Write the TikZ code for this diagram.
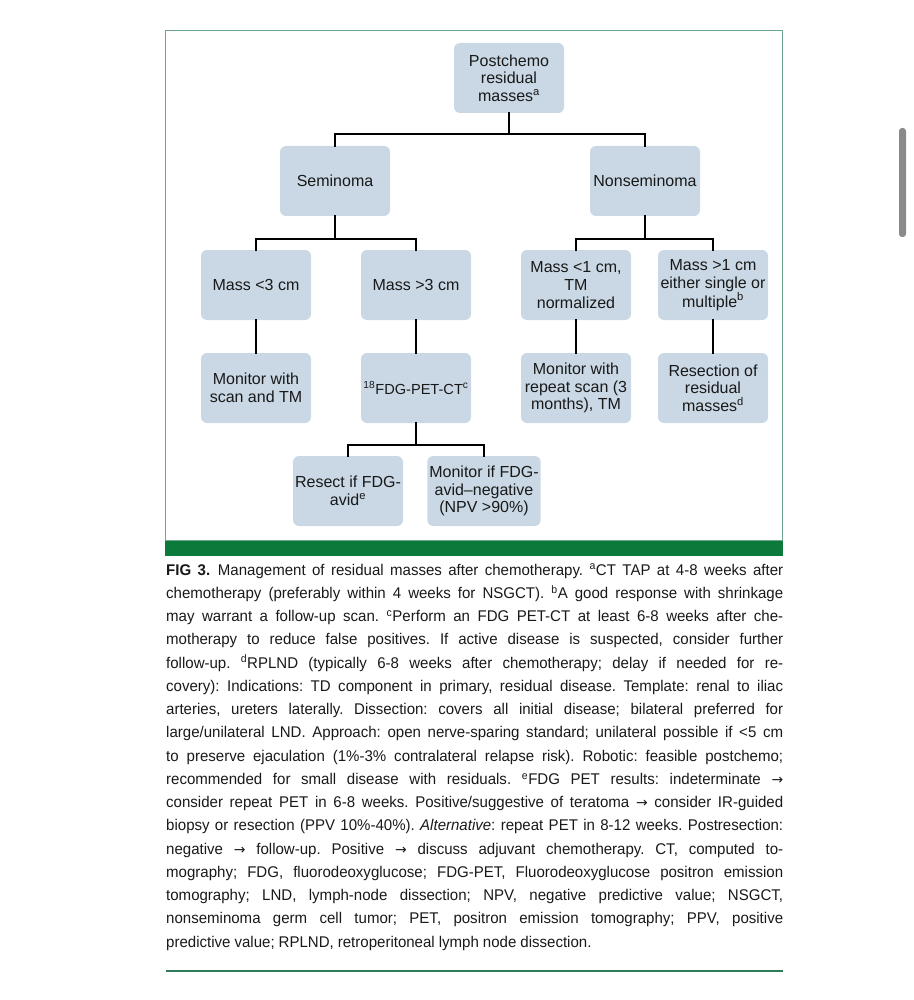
\documentclass[tikz,border=0pt]{standalone}
\usepackage{fontspec}
\setmainfont{Liberation Sans}
\newfontfamily\capfont[FakeStretch=0.97]{Liberation Sans}
\newfontfamily\arrowfont[Scale=0.9]{DejaVu Sans}

\definecolor{cellblue}{HTML}{C9D8E4}
\definecolor{framegreen}{HTML}{6AA58C}
\definecolor{bargreen}{HTML}{0B7A3B}
\definecolor{rulegreen}{HTML}{2F7D58}
\definecolor{scrollgrey}{HTML}{8A8A8A}

% caption type: even spaces, no hyphenation, lines broken by hand
\newcommand{\capstyle}{\capfont\fontsize{15.5}{23.25}\selectfont\frenchspacing
  \spaceskip=0.26em plus 0.6em minus 0.07em\relax
  \tolerance=10000 \hyphenpenalty=10000 \exhyphenpenalty=10000 }
\newcommand{\rarr}{{\arrowfont →}}

\begin{document}
\begin{tikzpicture}[
  x=1pt,y=-1pt,
  cell/.style={fill=cellblue,rounded corners=6pt,minimum width=110pt,
               minimum height=70pt,inner sep=2pt,align=center,text=black!90,
               font=\fontsize{16}{17.7}\selectfont},
  link/.style={line width=1.8pt,line cap=rect},
  captext/.style={anchor=north west,inner sep=0pt,text width=617pt,
                  align=justify,text=black!90,font=\capstyle},
]
\useasboundingbox (0,0) rectangle (913,1000);

% frame round the chart
\draw[framegreen,line width=1.5pt] (165.5,30.5) rectangle (782.5,541);
\fill[bargreen] (165,541) rectangle (783,556);

% scroll bar of the viewer
\fill[scrollgrey,rounded corners=3pt] (899,128) rectangle (906,237);

% top
\node[cell] (post) at (509,78) {Postchemo\\residual\\masses\textsuperscript{a}};

% histology
\node[cell] (sem)    at (335,181) {Seminoma};
\node[cell] (nonsem) at (645,181) {Nonseminoma};

% size of the mass
\node[cell] (small3) at (256,285) {Mass <3 cm};
\node[cell] (large3) at (416,285) {Mass >3 cm};
\node[cell] (small1) at (576,285) {Mass <1 cm,\\TM\\normalized};
\node[cell] (large1) at (713,285) {Mass >1 cm\\either single or\\multiple\textsuperscript{b}};

% what to do
\node[cell] (watch3)  at (256,388) {Monitor with\\scan and TM};
\node[cell,inner xsep=0pt,font=\fontsize{14.6}{17.7}\selectfont] (pet) at (416,388)
     {\textsuperscript{18}FDG-PET-CT\textsuperscript{c}};
\node[cell] (watch1)  at (576,388) {Monitor with\\repeat scan (3\\months), TM};
\node[cell] (resect1) at (713,388) {Resection of\\residual\\masses\textsuperscript{d}};

% after PET
\node[cell] (avid)    at (348,491) {Resect if FDG-\\avid\textsuperscript{e}};
\node[cell] (nonavid) at (484,491) {Monitor if FDG-\\avid–negative\\(NPV >90\%)};

% joints of the tree
\coordinate (j1) at (509,134);
\coordinate (j2) at (335,239);
\coordinate (j3) at (645,239);
\coordinate (j4) at (416,445);

\draw[link] (post) -- (j1);
\draw[link] (sem.north) |- (j1) -| (nonsem.north);
\draw[link] (sem) -- (j2);
\draw[link] (small3.north) |- (j2) -| (large3.north);
\draw[link] (nonsem) -- (j3);
\draw[link] (small1.north) |- (j3) -| (large1.north);
\draw[link] (small3) -- (watch3);
\draw[link] (large3) -- (pet);
\draw[link] (small1) -- (watch1);
\draw[link] (large1) -- (resect1);
\draw[link] (pet) -- (j4);
\draw[link] (avid.north) |- (j4) -| (nonavid.north);

% caption
\node[captext] (caption) at (166,558.7) {%
\strut\textbf{FIG 3.}\enspace Management of residual masses after chemotherapy. \textsuperscript{a}CT TAP at 4-8 weeks after\linebreak
chemotherapy (preferably within 4 weeks for NSGCT). \textsuperscript{b}A good response with shrinkage\linebreak
may warrant a follow-up scan. \textsuperscript{c}Perform an FDG PET-CT at least 6-8 weeks after che-\linebreak
motherapy to reduce false positives. If active disease is suspected, consider further\linebreak
follow-up. \textsuperscript{d}RPLND (typically 6-8 weeks after chemotherapy; delay if needed for re-\linebreak
covery): Indications: TD component in primary, residual disease. Template: renal to iliac\linebreak
arteries, ureters laterally. Dissection: covers all initial disease; bilateral preferred for\linebreak
large/unilateral LND. Approach: open nerve-sparing standard; unilateral possible if <5 cm\linebreak
to preserve ejaculation (1\%-3\% contralateral relapse risk). Robotic: feasible postchemo;\linebreak
recommended for small disease with residuals. \textsuperscript{e}FDG PET results: indeterminate \rarr\linebreak
consider repeat PET in 6-8 weeks. Positive/suggestive of teratoma \rarr{} consider IR-guided\linebreak
biopsy or resection (PPV 10\%-40\%). \textit{Alternative}: repeat PET in 8-12 weeks. Postresection:\linebreak
negative \rarr{} follow-up. Positive \rarr{} discuss adjuvant chemotherapy. CT, computed to-\linebreak
mography; FDG, fluorodeoxyglucose; FDG-PET, Fluorodeoxyglucose positron emission\linebreak
tomography; LND, lymph-node dissection; NPV, negative predictive value; NSGCT,\linebreak
nonseminoma germ cell tumor; PET, positron emission tomography; PPV, positive\linebreak
predictive value; RPLND, retroperitoneal lymph node dissection.};

\draw[rulegreen,line width=1.6pt] (caption.south west |- 0,971) -- (783,971);
\end{tikzpicture}
\end{document}
